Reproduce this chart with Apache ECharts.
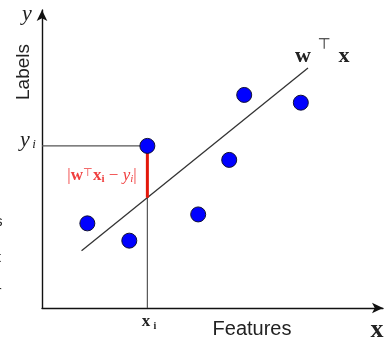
<!DOCTYPE html>
<html><head><meta charset="utf-8">
<script src="https://cdn.jsdelivr.net/npm/echarts@6/dist/echarts.min.js"></script>
<style>html,body{margin:0;padding:0;background:#fff}#c{width:389px;height:343px}</style>
</head><body><div id="c"></div>
<script>
// Data (feature, label) pairs, in axis units 0..10
var featureX = [1.33, 2.56, 3.09, 4.58, 5.49, 5.93, 7.59];
var labelY   = [2.84, 2.26, 5.44, 3.14, 4.97, 7.15, 6.89];
var highlightIndex = 2;           // the point x_i, y_i
var fitLineX = [1.16, 7.80];      // regression line w^T x endpoints
var fitLineY = [1.92, 8.05];

var pts = featureX.map(function(v,i){return [v, labelY[i]];});
var xi = featureX[highlightIndex], yi = labelY[highlightIndex];
var slope = (fitLineY[1]-fitLineY[0])/(fitLineX[1]-fitLineX[0]);
var yhat = fitLineY[0] + (xi - fitLineX[0]) * slope;

var chart = echarts.init(document.getElementById('c'), null, {renderer:'canvas'});
var serif = 'Liberation Serif';
function txt(x,y,t,font,color,extra){
  var o = {type:'text', x:x, y:y, z:100, style:{text:t, font:font, fill:color||'#111', textAlign:'center', textVerticalAlign:'middle'}};
  if (extra) for (var k in extra) o[k]=extra[k];
  return o;
}
var axisCommon = {
  type:'value', min:0, max:10,
  axisLine:{show:true, symbol:['none','arrow'], symbolSize:[8,11], lineStyle:{color:'#111', width:1.4}},
  axisTick:{show:false}, axisLabel:{show:false}, splitLine:{show:false}
};
var red = '#f04040';
chart.setOption({
  animation:false,
  grid:{left:42, top:10, width:341, height:298},
  xAxis: Object.assign({}, axisCommon),
  yAxis: Object.assign({}, axisCommon),
  series:[
    {type:'line', data:[[fitLineX[0],fitLineY[0]],[fitLineX[1],fitLineY[1]]], symbol:'none', lineStyle:{color:'#333', width:1.3}, z:2},
    {type:'line', data:[[0,yi],[xi,yi],[xi,0]], symbol:'none', lineStyle:{color:'#555', width:1.2}, z:1},
    {type:'line', data:[[xi,yi],[xi,yhat]], symbol:'none', lineStyle:{color:'#e3170a', width:3}, z:3},
    {type:'scatter', data:pts, symbol:'circle', symbolSize:15, itemStyle:{color:'#0000ff', borderColor:'#111133', borderWidth:1, opacity:1}, z:5}
  ],
  graphic:[
    txt(24,72,'Labels','19px Liberation Sans','#222',{rotation:Math.PI/2}),
    txt(27,14,'y','italic 22px '+serif,'#222'),
    txt(25,140,'y','italic 22px '+serif,'#222'),
    txt(34,145,'i','italic 13px '+serif,'#222'),
    {type:'text', x:102, y:176, z:100, style:{
      text:'{n||}{b|w}{s|⊤}{b|x}{sb|i}{n| − }{i|y}{si|i}{n||}',
      textAlign:'center', textVerticalAlign:'middle',
      rich:{
        n:{font:'17px '+serif, fill:red},
        b:{font:'bold 17px '+serif, fill:red},
        s:{font:'11px '+serif, fill:red, verticalAlign:'top'},
        sb:{font:'bold 11px '+serif, fill:red, verticalAlign:'bottom'},
        i:{font:'italic 17px '+serif, fill:red},
        si:{font:'italic 11px '+serif, fill:red, verticalAlign:'bottom'}
      }}},
    txt(146,322,'x','bold 17px '+serif,'#222'),
    txt(155,326,'i','bold 10px '+serif,'#222'),
    txt(252,329,'Features','20px Liberation Sans','#222'),
    txt(377,330,'x','bold 26px '+serif,'#222'),
    txt(303,56,'w','bold 22px '+serif,'#222'),
    txt(324,45,'⊤','15px DejaVu Sans','#222'),
    txt(344,56,'x','bold 22px '+serif,'#222'),
    txt(-1,222,'s','14px Liberation Sans','#222'),
    txt(-1,258,'t','14px Liberation Sans','#222'),
    txt(-1,292,'r','14px Liberation Sans','#222')
  ]
});
</script></body></html>
